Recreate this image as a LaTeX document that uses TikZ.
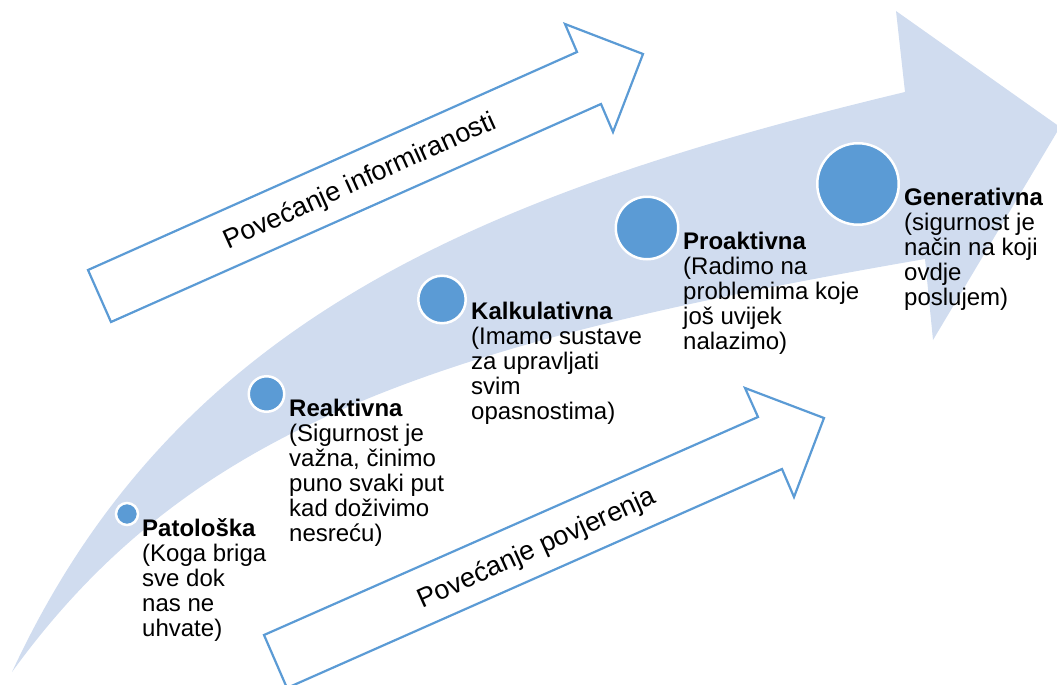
\documentclass[tikz,border=0pt]{standalone}
\usepackage{fontspec}
\setmainfont{Liberation Sans}
\definecolor{band}{RGB}{208,220,239}
\definecolor{acc}{RGB}{91,155,213}
\begin{document}
\begin{tikzpicture}[x=1pt,y=-1pt,
  dot/.style={circle,fill=acc,draw=white,line width=2.5pt,inner sep=0pt,minimum size=#1},
  lbl/.style={anchor=north west,inner sep=0pt,align=left,font=\fontsize{24}{25}\selectfont},
  outarrow/.style={draw=acc,fill=white,line width=2.2pt,line join=miter},
  arrowtext/.style={font=\fontsize{27}{30}\selectfont,inner sep=0pt}]
\useasboundingbox (0,0) rectangle (1057,685);
% big curved arrow
\fill[band] (12,672) .. controls (172,327) and (467,197) .. (905,92) -- (896,11) -- (1060,127) -- (933,340) -- (925,259) .. controls (432,344) and (188,429) .. (12,672) -- cycle;
% outlined arrows
\draw[outarrow] (88,270) -- (577,52) -- (565,24) -- (643,54) -- (613,132) -- (601,104) -- (111,322) -- cycle;
\draw[outarrow] (264,635) -- (758,417) -- (745,388) -- (824,418) -- (794,497) -- (782,469) -- (287,688) -- cycle;
\node[arrowtext,rotate=24.3] (t1) at (360,182) {Povećanje informiranosti};
\node[arrowtext,rotate=24.3] (t2) at (537,549) {Povećanje povjerenja};
% stages
\node[dot=22pt] (c1) at (127,514) {};
\node[dot=35.5pt] (c2) at (266.5,394) {};
\node[dot=47.5pt] (c3) at (442,299.5) {};
\node[dot=62.5pt] (c4) at (647,228) {};
\node[dot=81.5pt] (c5) at (858,184) {};
\node[lbl] (l1) at (142,518) {\textbf{Patološka}\\(Koga briga\\sve dok\\nas ne\\uhvate)};
\node[lbl] (l2) at (289,399) {\textbf{Reaktivna}\\(Sigurnost je\\važna, činimo\\puno svaki put\\kad doživimo\\nesreću)};
\node[lbl] (l3) at (471,302) {\textbf{Kalkulativna}\\(Imamo sustave\\za upravljati\\svim\\opasnostima)};
\node[lbl] (l4) at (683,232) {\textbf{Proaktivna}\\(Radimo na\\problemima koje\\još uvijek\\nalazimo)};
\node[lbl] (l5) at (904,188) {\textbf{Generativna}\\(sigurnost je\\način na koji\\ovdje\\poslujem)};
\end{tikzpicture}
\end{document}
